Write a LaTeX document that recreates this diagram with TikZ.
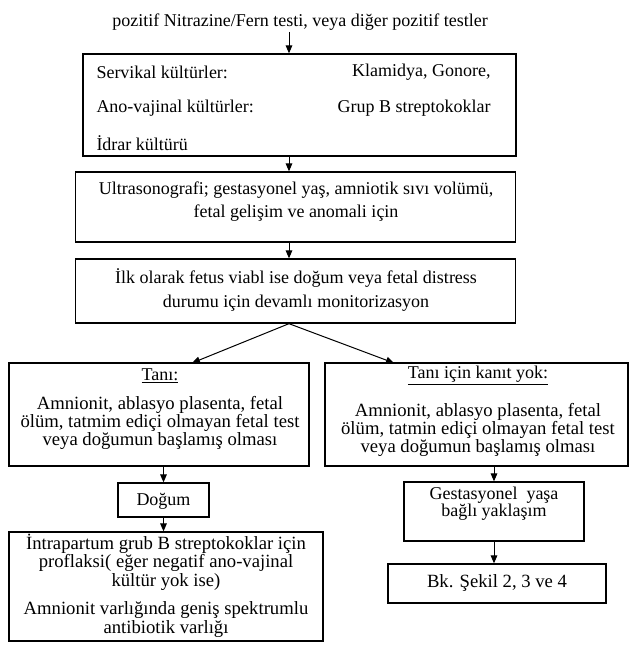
\documentclass[tikz,border=0pt]{standalone}
\usepackage{fontspec}
\setmainfont{Liberation Serif}
\usetikzlibrary{arrows.meta}

\tikzset{every picture/.style={line width=0.75pt}}
\tikzset{
  box/.style={draw, line width=1pt, inner sep=0pt},
  txt/.style={inner sep=0.75pt, align=center, font=\fontsize{13.5}{17.25}\selectfont},
  tight/.style={font=\fontsize{14}{11.5}\selectfont},
  arr/.style={-{Triangle[length=6pt,width=5pt]}, line width=0.75pt}
}

\begin{document}
\begin{tikzpicture}[x=0.75pt,y=0.75pt,yscale=-1,xscale=1]
%set diagram left start at 0, and has height of 651
\path (0,0) rectangle (636,651);

%Shape: Rectangle [id:cult]
\node [box, minimum width=433*0.75pt, minimum height=102*0.75pt] (cult) at (299.5,105) {};
%Shape: Rectangle [id:us]
\node [box, minimum width=440*0.75pt, minimum height=70*0.75pt] (us) at (295.5,207) {};
%Shape: Rectangle [id:mon]
\node [box, minimum width=440*0.75pt, minimum height=64*0.75pt] (mon) at (295.5,291) {};
%Shape: Rectangle [id:tani]
\node [box, minimum width=300*0.75pt, minimum height=103*0.75pt] (tani) at (159,414.5) {};
%Shape: Rectangle [id:yok]
\node [box, minimum width=303*0.75pt, minimum height=103*0.75pt] (yok) at (476.5,414.5) {};
%Shape: Rectangle [id:dogum]
\node [box, minimum width=91*0.75pt, minimum height=34*0.75pt] (dogum) at (163.5,500) {};
%Shape: Rectangle [id:proph]
\node [box, minimum width=314*0.75pt, minimum height=109*0.75pt] (proph) at (166,586.5) {};
%Shape: Rectangle [id:gest]
\node [box, minimum width=180*0.75pt, minimum height=59*0.75pt] (gest) at (494,511.5) {};
%Shape: Rectangle [id:bk]
\node [box, minimum width=218*0.75pt, minimum height=39*0.75pt] (bk) at (497,583.5) {};

% Text Node
\node [txt] (top) at (300,22) {pozitif Nitrazine/Fern testi, veya diğer pozitif testler};
% Text Node
\node [txt, anchor=west] (serv) at (95,72) {Servikal kültürler:};
% Text Node
\node [txt, anchor=west] (ano) at (95,108) {Ano-vajinal kültürler:};
% Text Node
\node [txt, anchor=west] (idrar) at (95,143) {İdrar kültürü};
% Text Node
\node [txt, anchor=east] (klam) at (492,72) {Klamidya, Gonore,};
% Text Node
\node [txt, anchor=east] (grup) at (492,108) {Grup B streptokoklar};
% Text Node
\node [txt] (ustxt) at (296,201.5) {Ultrasonografi; gestasyonel yaş, amniotik sıvı volümü,\\fetal gelişim ve anomali için};
% Text Node
\node [txt, font=\fontsize{13.5}{18}\selectfont] (montxt) at (296,290) {İlk olarak fetus viabl ise doğum veya fetal distress\\durumu için devamlı monitorizasyon};
% Text Node
\node [txt] (tanihead) at (160,376) {\underline{Tanı:}};
% Text Node
\node [txt, tight] (tanitxt) at (160,423) {Amnionit, ablasyo plasenta, fetal\\ölüm, tatmim ediçi olmayan fetal test\\veya doğumun başlamış olması};
% Text Node
\node [txt] (yokhead) at (478,376) {\underline{Tanı için kanıt yok:}};
% Text Node
\node [txt, tight] (yoktxt) at (478,430) {Amnionit, ablasyo plasenta, fetal\\ölüm, tatmin ediçi olmayan fetal test\\veya doğumun başlamış olması};
% Text Node
\node [txt] (dogumtxt) at (163.5,501) {Doğum};
% Text Node
\node [txt, tight] (prophtxt) at (166,562) {İntrapartum grub B streptokoklar için\\proflaksi( eğer negatif ano-vajinal\\kültür yok ise)};
% Text Node
\node [txt, tight] (abtxt) at (166,619.5) {Amnionit varlığında geniş spektrumlu\\antibiotik varlığı};
% Text Node
\node [txt, font=\fontsize{13.5}{12.75}\selectfont] (gesttxt) at (494,503.5) {Gestasyonel~ yaşa\\bağlı yaklaşım};
% Text Node
\node [txt, font=\fontsize{14}{16}\selectfont] (bktxt) at (497,583) {Bk. Şekil 2, 3 ve 4};

%Straight Lines
\coordinate (axis) at (289,0);
\coordinate (tl) at (192,363);
\coordinate (tr) at (394,363);
\draw [arr] (top.south -| axis) -- (cult.north -| axis);
\draw [arr] (cult.south -| axis) -- (us.north -| axis);
\draw [arr] (us.south -| axis) -- (mon.north -| axis);
\draw [arr] (mon.south -| axis) -- (tl);
\draw [arr] (mon.south -| axis) -- (tr);
\draw [arr] (tani.south -| dogum.north) -- (dogum.north);
\draw [arr] (dogum.south) -- (proph.north -| dogum.south);
\draw [arr] (yok.south -| gest.north) -- (gest.north);
\draw [arr] (gest.south) -- (bk.north -| gest.south);

\end{tikzpicture}
\end{document}
